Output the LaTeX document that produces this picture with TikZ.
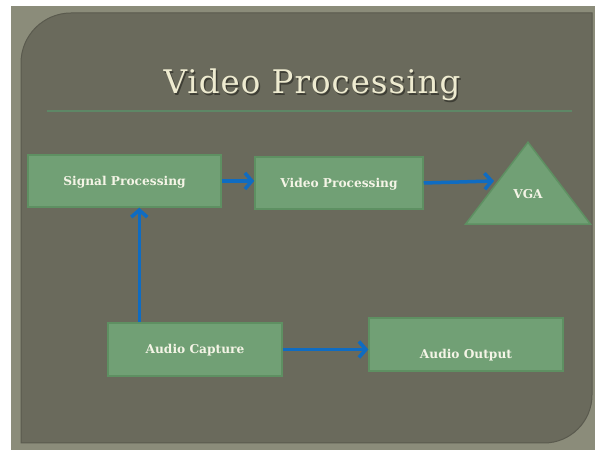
\documentclass[tikz,border=0pt]{standalone}
\usepackage{fontspec}
\setmainfont{DejaVu Serif}
\newfontfamily\titlefont[LetterSpace=3]{DejaVu Serif}
\usetikzlibrary{arrows.meta,shapes.geometric,calc}
\definecolor{frameC}{HTML}{8B8C7A}
\definecolor{panelC}{HTML}{6A6A5C}
\definecolor{panelEdge}{HTML}{5A5A4E}
\definecolor{boxC}{HTML}{71A075}
\definecolor{boxEdge}{HTML}{5E9062}
\definecolor{titleC}{HTML}{EEEBD0}
\definecolor{shadowC}{HTML}{3E3E35}
\definecolor{labelC}{HTML}{F4F4E6}
\definecolor{arrowC}{HTML}{0F6CC2}
\definecolor{ruleC}{HTML}{5E8766}
\tikzset{
  x=1pt,y=1pt,
  procbox/.style={rectangle, fill=boxC, draw=boxEdge, line width=1.5pt,
    text=labelC, font=\bfseries\fontsize{12.2}{14}\selectfont, inner sep=0pt,
    text height=9pt, text depth=0pt},
  tribox/.style={isosceles triangle, shape border rotate=90,
    isosceles triangle apex angle=74.6, isosceles triangle stretches,
    fill=boxC, draw=boxEdge, line width=1.5pt, inner sep=0pt,
    text=labelC, font=\bfseries\fontsize{12.2}{14}\selectfont,
    text height=8pt, text depth=8pt},
  flow/.style={draw=arrowC, line width=3.5pt,
    -{Straight Barb[length=7pt,width=16pt]}},
}
\begin{document}
\begin{tikzpicture}
\useasboundingbox (0,0) rectangle (595,450);
\fill[white] (0,0) rectangle (595,450);
% outer frame
\fill[frameC] (11,0) rectangle (595,444);
% inner panel
\fill[panelC, draw=panelEdge, line width=1pt]
  (21,7) -- (21,387) arc[start angle=180,end angle=90,radius=50]
  -- (592,437) -- (592,55) arc[start angle=0,end angle=-90,radius=48] -- cycle;
% title
\node[anchor=base, text=shadowC, font=\titlefont\fontsize{32.5}{36}\selectfont] (titleshadow) at (313.5,354.5) {Video Processing};
\node[anchor=base, text=titleC, font=\titlefont\fontsize{32.5}{36}\selectfont] (title) at (312,356) {Video Processing};
\coordinate (ruleL) at (47,339);
\coordinate (ruleR) at (572,339);
\draw[ruleC, line width=1.3pt] (ruleL) -- (ruleR);
% boxes
\node[procbox, minimum width=193pt, minimum height=52pt] (sig) at (124.5,269) {Signal Processing};
\node[procbox, minimum width=168pt, minimum height=52pt] (vid) at (339,267) {Video Processing};
\node[tribox, minimum width=125pt, minimum height=82pt, anchor=apex] (vga) at (528,309) {VGA};
\node[procbox, minimum width=174pt, minimum height=53pt] (cap) at (195,100.5) {Audio Capture};
\node[procbox, minimum width=194pt, minimum height=53pt, text height=28pt] (out) at (466,105.5) {Audio Output};
% connectors
\draw[flow] (sig.east) -- (sig.east -| vid.west);
\draw[flow] (vid.east) -- ([xshift=-2pt,yshift=2pt]vga.left side);
\draw[flow] ([xshift=32pt]cap.north west) -- ([xshift=32pt]cap.north west |- sig.south);
\draw[flow] (cap.east) -- (cap.east -| out.west);
\end{tikzpicture}
\end{document}
